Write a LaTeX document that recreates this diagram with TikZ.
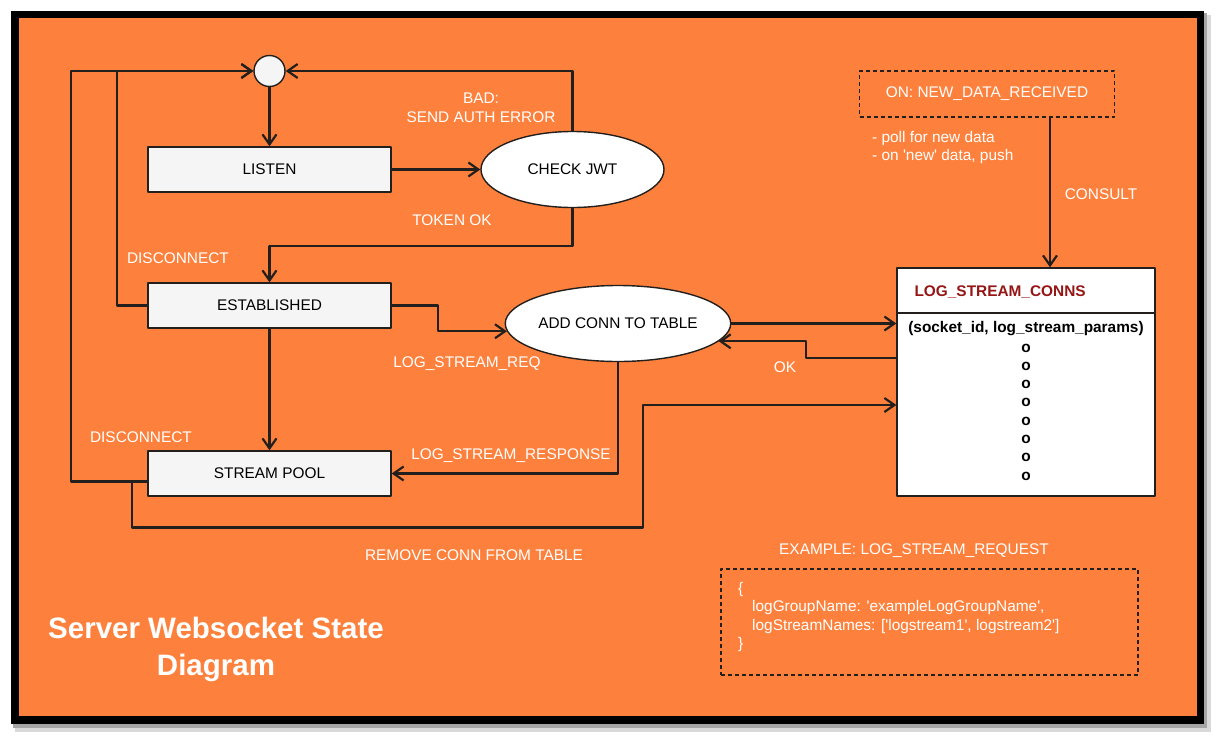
\documentclass[tikz,border=0pt]{standalone}
\usepackage{fontspec}
\setmainfont{Liberation Sans}
\usetikzlibrary{arrows.meta,shapes.geometric}
\definecolor{bgorange}{RGB}{253,129,60}
\definecolor{ink}{RGB}{35,31,28}
\definecolor{tblred}{RGB}{150,22,22}
\definecolor{boxgray}{RGB}{245,245,245}
\newcommand{\sq}{\textquotesingle}
\begin{document}
\begin{tikzpicture}[x=1pt,y=-1pt,line join=round,font=\fontsize{15.4}{18.5}\selectfont,
	flow/.style={draw=ink,line width=2.2pt,-{Straight Barb[length=10pt,width=14pt,line width=2.2pt]}},
	statebox/.style={draw=ink,line width=1.4pt,fill=boxgray,minimum width=243pt,minimum height=45pt,inner sep=0pt},
	check/.style={ellipse,draw=ink,line width=1.4pt,fill=white,minimum width=183pt,minimum height=76pt,inner sep=0pt},
	lbl/.style={text=white,inner sep=0pt},
	note/.style={draw=ink,line width=1.3pt,dash pattern=on 4pt off 3pt}]
	\useasboundingbox (0,0) rectangle (1223,739);
	% frame
	\fill[white] (0,0) rectangle (1223,739);
	\fill[black!15] (15,15) rectangle (1211,732);
	\fill[black!35] (13,13) rectangle (1207,728);
	\fill[black] (11,11) rectangle (1204,724);
	\fill[bgorange] (19,18) rectangle (1197,716);
	% states
	\node[circle,draw=ink,line width=1.4pt,fill=boxgray,minimum size=31pt,inner sep=0pt] (start) at (269.5,71) {};
	\node[statebox] (listen) at (269.5,169.5) {LISTEN};
	\node[check] (jwt) at (572.5,169.5) {CHECK JWT};
	\node[statebox] (est) at (269.5,305.5) {ESTABLISHED};
	\node[check] (add) at (618,323.5) {ADD CONN TO TABLE};
	\node[statebox] (pool) at (269.5,473.5) {STREAM POOL};
	% table
	\node[draw=ink,line width=1.4pt,fill=white,minimum width=258pt,minimum height=228pt,inner sep=0pt] (conns) at (1026,382) {};
	\draw[ink,line width=2.4pt] (conns.west |- 0,313) -- (conns.east |- 0,313);
	\node[anchor=west,text=tblred,font=\fontsize{15.4}{18.5}\selectfont\bfseries] (ctitle) at (911,292) {LOG\_STREAM\_CONNS};
	\node[font=\fontsize{15.4}{18.5}\selectfont\bfseries,inner sep=0pt] (cols) at (1026,329) {(socket\_id, log\_stream\_params)};
	\foreach \k in {0,...,7}
		\node[font=\fontsize{15.4}{18.5}\selectfont\bfseries,inner sep=0pt] (row\k) at (1026,348+18.3*\k) {o};
	% notes
	\node[note,minimum width=255pt,minimum height=46pt,text=white] (event) at (987,94) {ON: NEW\_DATA\_RECEIVED};
	\node[lbl,anchor=north west,align=left] (poll) at (872,131) {- poll for new data\\- on \sq new\sq{} data, push};
	\node[note,minimum width=417pt,minimum height=106pt] (sample) at (929.5,622) {};
	\node[lbl,anchor=north west,align=left] (sampletxt) at (738,582) {\{\\\hspace{14pt}logGroupName: \sq exampleLogGroupName\sq,\\\hspace{14pt}logStreamNames: [\sq logstream1\sq, logstream2\sq]\\\}};
	% transitions
	\draw[flow] (start) -- (listen);
	\draw[flow] (listen) -- (jwt);
	\draw[flow] (jwt.north) |- (start);
	\draw[flow] (jwt.south) -- ++(0,37.5) -| (est);
	\draw[flow] (est.east) -- ++(46,0) |- (add.184);
	\draw[flow] (est) -- (pool);
	\draw[flow] (add.south) |- (pool.east);
	\draw[flow] (add.east) -- (add.east -| conns.west);
	\draw[flow] ([yshift=24pt]conns.west) -- ++(-90,0) |- (add.-10);
	\draw[flow] ([xshift=63pt]event.south) -- ([xshift=63pt]event.south |- conns.north);
	\draw[flow] (est.west) -- ++(-30,0) |- (start);
	\draw[flow] ([yshift=-8pt]pool.west) -- ++(-76,0) |- (start);
	\draw[flow] ([yshift=-8pt]pool.west) -- ++(-15,0) -- ++(0,46) -- ++(511,0) |- ([yshift=-23pt]conns.west);
	% labels
	\node[lbl,align=center] (bad) at (481,108) {BAD:\\SEND AUTH ERROR};
	\node[lbl] (tokok) at (452,220) {TOKEN OK};
	\node[lbl] (disc1) at (178,258) {DISCONNECT};
	\node[lbl] (req) at (467,364) {LOG\_STREAM\_REQ};
	\node[lbl] (disc2) at (141,437) {DISCONNECT};
	\node[lbl] (resp) at (511,456) {LOG\_STREAM\_RESPONSE};
	\node[lbl] (ok) at (785,367) {OK};
	\node[lbl] (remove) at (474,555) {REMOVE CONN FROM TABLE};
	\node[lbl] (consult) at (1101,194) {CONSULT};
	\node[lbl] (example) at (914,551) {EXAMPLE: LOG\_STREAM\_REQUEST};
	\node[lbl,align=center,font=\fontsize{29.5}{37}\selectfont\bfseries] (title) at (216,649) {Server Websocket State\\Diagram};
\end{tikzpicture}
\end{document}
